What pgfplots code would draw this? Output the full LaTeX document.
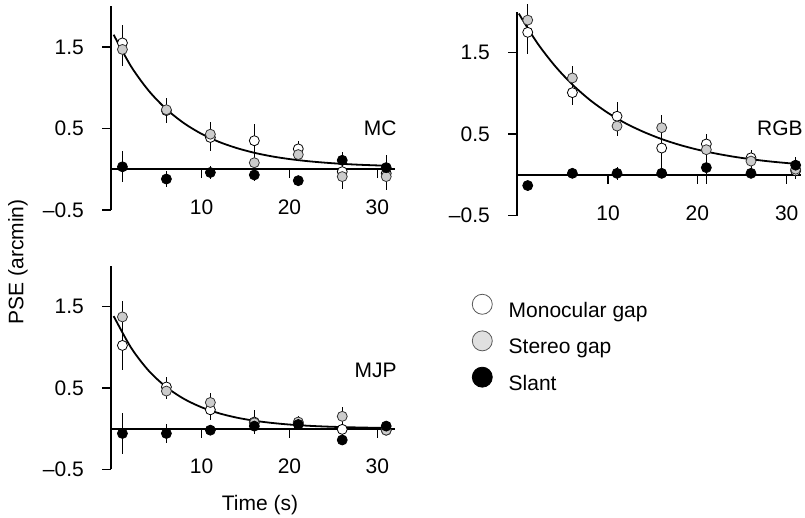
\documentclass[border=0pt]{standalone}
\usepackage{fontspec}
\setmainfont{Liberation Sans}
\usepackage{pgfplots}
\pgfplotsset{compat=1.18}

\definecolor{stereo}{gray}{0.80}
\definecolor{stereoleg}{gray}{0.88}

\pgfplotsset{
  panel/.style={
    scale only axis, width=284pt, height=203.75pt,
    anchor=south west, clip=false, enlargelimits=false,
    axis x line=middle, axis y line=left,
    axis line style={-, line width=2pt},
    every inner x axis line/.append style={-, line width=2pt},
    every outer y axis line/.append style={-, line width=2pt},
    ymin=-0.5, ymax=2,
    ytick={-0.5,0.5,1.5}, yticklabels={–0.5,0.5,1.5},
    xtick={10,20,30}, xticklabels={10,20,30},
    tick align=outside, major tick length=9pt,
    tick style={line width=1.4pt, black},
    yticklabel style={inner sep=0pt, anchor=east, xshift=-18pt},
    xticklabel style={inner sep=0pt, anchor=center, yshift=-29pt},
  },
  fit/.style={black, line width=1.8pt, smooth, no marks, forget plot},
  pts/.style={only marks, mark=*, mark size=5pt, forget plot,
    error bars/y dir=both, error bars/y explicit, error bars/error mark=none,
    error bars/error bar style={line width=0.9pt, black}},
  mono/.style={pts, mark options={fill=white, draw=black, line width=0.8pt}},
  ster/.style={pts, mark options={fill=stereo, draw=black!80, line width=0.8pt}},
  slant/.style={pts, mark options={fill=black, draw=black, line width=0.8pt}},
}

\begin{document}
\fontsize{21}{25}\selectfont
\begin{tikzpicture}
\useasboundingbox (0,0) rectangle (805pt,-518pt);

% MC
\begin{axis}[panel, at={(111pt,-210pt)}, xmin=-0.3, xmax=32]
\addplot[fit] coordinates {(0,1.65) (2,1.259) (4,0.962) (6,0.737) (8,0.565) (10,0.434) (12,0.335) (14,0.260) (16,0.202) (18,0.158) (20,0.125) (22,0.100) (24,0.081) (26,0.066) (28,0.055) (30,0.047) (31,0.043)};
\addplot[mono] coordinates {(1,1.55) +- (0,0.22) (6,0.72) +- (0,0.15) (11,0.39) +- (0,0.17) (16,0.35) +- (0,0.2) (21,0.25) +- (0,0.1) (26,-0.03) +- (0,0.15) (31,-0.05) +- (0,0.2)};
\addplot[ster] coordinates {(1,1.47) +- (0,0.2) (6,0.73) +- (0,0.12) (11,0.43) +- (0,0.15) (16,0.08) +- (0,0.1) (21,0.18) +- (0,0.08) (26,-0.09) +- (0,0.15) (31,-0.09) +- (0,0.12)};
\addplot[slant] coordinates {(1,0.03) +- (0,0.19) (6,-0.12) +- (0,0.1) (11,-0.04) +- (0,0.08) (16,-0.07) +- (0,0.08) (21,-0.14) +- (0,0.06) (26,0.11) +- (0,0.1) (31,0.02) +- (0,0.15)};
\node[anchor=east, inner sep=0pt] at (axis cs:32.2,0.5) {MC};
\end{axis}

% RGB
\begin{axis}[panel, at={(517pt,-215.7pt)}, xmin=-0.2, xmax=31.6]
\addplot[fit] coordinates {(0,1.98) (2,1.630) (4,1.344) (6,1.109) (8,0.917) (10,0.760) (12,0.631) (14,0.527) (16,0.440) (18,0.369) (20,0.311) (22,0.264) (24,0.225) (26,0.193) (28,0.167) (30,0.146) (31,0.137)};
\addplot[mono] coordinates {(1,1.75) +- (0,0.26) (6,1.01) +- (0,0.15) (11,0.72) +- (0,0.17) (16,0.33) +- (0,0.24) (21,0.38) +- (0,0.12) (26,0.21) +- (0,0.1) (31,0.05) +- (0,0.1)};
\addplot[ster] coordinates {(1,1.90) +- (0,0.2) (6,1.19) +- (0,0.15) (11,0.60) +- (0,0.12) (16,0.58) +- (0,0.15) (21,0.31) +- (0,0.1) (26,0.17) +- (0,0.08) (31,0.07) +- (0,0.08)};
\addplot[slant] coordinates {(1,-0.13) +- (0,0.05) (6,0.02) +- (0,0.05) (11,0.02) +- (0,0.08) (16,0.02) +- (0,0.05) (21,0.09) +- (0,0.2) (26,0.02) +- (0,0.06) (31,0.12) +- (0,0.1)};
\node[anchor=east, inner sep=0pt] at (axis cs:31.8,0.57) {RGB};
\end{axis}

% MJP
\begin{axis}[panel, at={(111pt,-469.3pt)}, xmin=-0.3, xmax=32,
  legend style={at={(1.27,0.862)}, anchor=north west, draw=none, fill=none,
    inner sep=0pt, row sep=8pt, column sep=14pt},
  legend cell align=left]
\addplot[fit] coordinates {(0,1.38) (2,0.989) (4,0.708) (6,0.508) (8,0.364) (10,0.261) (12,0.187) (14,0.134) (16,0.096) (18,0.069) (20,0.049) (22,0.035) (24,0.025) (26,0.018) (28,0.013) (30,0.009) (31,0.008)};
\addplot[mono] coordinates {(1,1.02) +- (0,0.3) (6,0.51) +- (0,0.12) (11,0.23) +- (0,0.13) (16,0.08) +- (0,0.15) (21,0.07) +- (0,0.08) (26,-0.01) +- (0,0.15) (31,-0.02) +- (0,0.05)};
\addplot[ster] coordinates {(1,1.37) +- (0,0.2) (6,0.46) +- (0,0.1) (11,0.32) +- (0,0.12) (16,0.07) +- (0,0.1) (21,0.08) +- (0,0.08) (26,0.15) +- (0,0.12) (31,-0.02) +- (0,0.05)};
\addplot[slant] coordinates {(1,-0.06) +- (0,0.25) (6,-0.06) +- (0,0.12) (11,-0.02) +- (0,0.05) (16,0.03) +- (0,0.05) (21,0.05) +- (0,0.05) (26,-0.14) +- (0,0.05) (31,0.03) +- (0,0.05)};
\node[anchor=east, inner sep=0pt] at (axis cs:32.2,0.71) {MJP};
\addlegendimage{legend image code/.code={\draw[fill=white, draw=black!65, line width=0.8pt] (10pt,7pt) circle (10pt);}}
\addlegendentry{Monocular gap}
\addlegendimage{legend image code/.code={\draw[fill=stereoleg, draw=black!65, line width=0.8pt] (10pt,7pt) circle (10pt);}}
\addlegendentry{Stereo gap}
\addlegendimage{legend image code/.code={\draw[fill=black, draw=black, line width=0.8pt] (10pt,7pt) circle (10pt);}}
\addlegendentry{Slant}
\end{axis}

\node[rotate=90] at (18pt,-262pt) {PSE (arcmin)};
\node[anchor=base, inner sep=0pt] at (260pt,-510.5pt) {Time (s)};
\end{tikzpicture}
\end{document}
